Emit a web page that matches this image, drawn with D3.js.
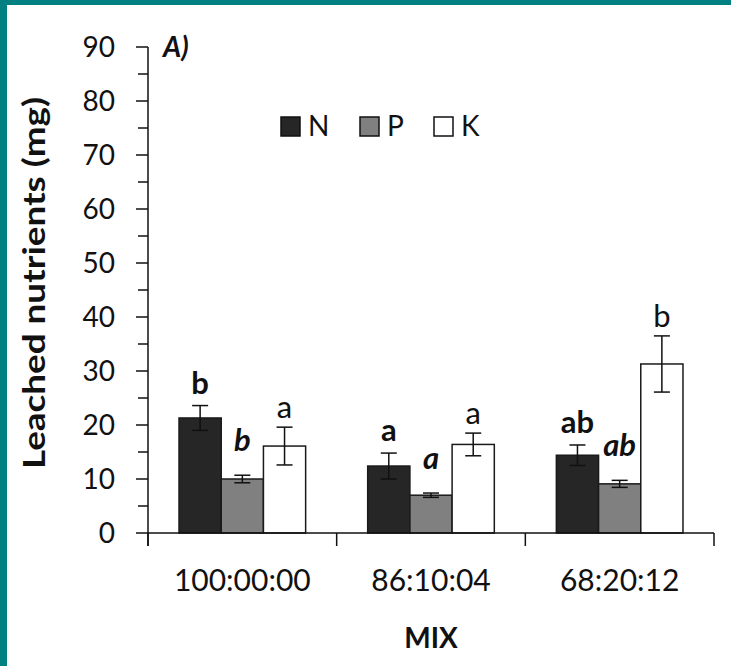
<!DOCTYPE html>
<html>
<head>
<meta charset="utf-8">
<script src="https://cdn.jsdelivr.net/npm/d3@7"></script>
<style>
  body { margin: 0; background: #fff; }
  svg text { font-family: Lato, "Open Sans", sans-serif; fill: #111; }
</style>
</head>
<body>
<div id="chart"></div>
<script>
// data
var mixes = ["100:00:00", "86:10:04", "68:20:12"];
var nutrients = ["N", "P", "K"];
var meanN = [21.3, 12.4, 14.4];
var meanP = [10.0, 7.0, 9.1];
var meanK = [16.1, 16.4, 31.3];
var errN = [2.3, 2.4, 1.9];
var errP = [0.7, 0.4, 0.65];
var errK = [3.5, 2.1, 5.2];
var letN = ["b", "a", "ab"];
var letP = ["b", "a", "ab"];
var letK = ["a", "a", "b"];
var yTicks = [0, 10, 20, 30, 40, 50, 60, 70, 80, 90];

var W = 731, H = 666;
var fills = {N: "#262626", P: "#808080", K: "#ffffff"};
var letterStyle = {
  N: {weight: "bold", style: "normal", gap: 12},
  P: {weight: "bold", style: "italic", gap: 24},
  K: {weight: "normal", style: "normal", gap: 9}
};

var rows = [];
mixes.forEach(function(m, i) {
  rows.push({mix: m, key: "N", v: meanN[i], e: errN[i], l: letN[i]});
  rows.push({mix: m, key: "P", v: meanP[i], e: errP[i], l: letP[i]});
  rows.push({mix: m, key: "K", v: meanK[i], e: errK[i], l: letK[i]});
});

var svg = d3.select("#chart").append("svg")
    .attr("width", W)
    .attr("height", H);

// teal frame bits
svg.append("rect").attr("x", 0).attr("y", 0).attr("width", W).attr("height", 5).attr("fill", "#008080");
svg.append("rect").attr("x", 0).attr("y", 0).attr("width", 7).attr("height", H).attr("fill", "#008080");

var x0 = d3.scaleBand().domain(mixes).range([148, 714]).padding(0);
var x1 = d3.scaleBand().domain(nutrients).range([0, x0.bandwidth()])
    .paddingInner(0).paddingOuter(0.735);
var y = d3.scaleLinear().domain([0, 90]).range([533, 47]);

// y axis with minor ticks
var yAxis = svg.append("g").attr("transform", "translate(148,0)");
yAxis.append("line").attr("y1", y(90)).attr("y2", 546).attr("stroke", "#111").attr("stroke-width", 1.5);
yAxis.selectAll(".minor")
    .data(d3.range(5, 90, 10))
    .enter().append("line")
    .attr("x1", -10).attr("x2", 0)
    .attr("y1", function(d) { return y(d); })
    .attr("y2", function(d) { return y(d); })
    .attr("stroke", "#111").attr("stroke-width", 1.5);
yAxis.selectAll(".major")
    .data(yTicks)
    .enter().append("line")
    .attr("x1", -12).attr("x2", 0)
    .attr("y1", function(d) { return y(d); })
    .attr("y2", function(d) { return y(d); })
    .attr("stroke", "#111").attr("stroke-width", 1.5);
yAxis.selectAll(".lbl")
    .data(yTicks)
    .enter().append("text")
    .attr("x", -33)
    .attr("y", function(d) { return y(d); })
    .attr("dy", "0.36em")
    .attr("text-anchor", "end")
    .attr("font-size", 28)
    .text(function(d) { return d; });

// bars
var bar = svg.selectAll(".bar")
    .data(rows)
    .enter().append("g")
    .attr("transform", function(d) { return "translate(" + (x0(d.mix) + x1(d.key)) + ",0)"; });

bar.append("rect")
    .attr("x", 0)
    .attr("y", function(d) { return y(d.v); })
    .attr("width", x1.bandwidth())
    .attr("height", function(d) { return y(0) - y(d.v); })
    .attr("fill", function(d) { return fills[d.key]; })
    .attr("stroke", "#1a1a1a")
    .attr("stroke-width", 1.5);

var bw = x1.bandwidth() / 2;
bar.append("line")
    .attr("x1", bw).attr("x2", bw)
    .attr("y1", function(d) { return y(d.v + d.e); })
    .attr("y2", function(d) { return y(d.v - d.e); })
    .attr("stroke", "#111").attr("stroke-width", 1.5);
bar.selectAll(".cap")
    .data(function(d) { return [d.v + d.e, d.v - d.e]; })
    .enter().append("line")
    .attr("x1", bw - 8).attr("x2", bw + 8)
    .attr("y1", function(v) { return y(v); })
    .attr("y2", function(v) { return y(v); })
    .attr("stroke", "#111").attr("stroke-width", 1.5);

bar.append("text")
    .attr("x", bw)
    .attr("y", function(d) { return y(d.v + d.e) - letterStyle[d.key].gap; })
    .attr("text-anchor", "middle")
    .attr("font-size", 31)
    .attr("font-weight", function(d) { return letterStyle[d.key].weight; })
    .attr("font-style", function(d) { return letterStyle[d.key].style; })
    .text(function(d) { return d.l; });

// x axis
var xAxis = svg.append("g").attr("transform", "translate(0," + y(0) + ")");
xAxis.append("line").attr("x1", 148).attr("x2", 714).attr("stroke", "#111").attr("stroke-width", 1.5);
xAxis.selectAll(".sep")
    .data(mixes.map(function(m) { return x0(m); }).concat([714]))
    .enter().append("line")
    .attr("x1", function(d) { return d; }).attr("x2", function(d) { return d; })
    .attr("y1", 0).attr("y2", 13)
    .attr("stroke", "#111").attr("stroke-width", 1.5);
xAxis.selectAll(".lbl")
    .data(mixes)
    .enter().append("text")
    .attr("x", function(m) { return x0(m) + x0.bandwidth() / 2; })
    .attr("y", 58)
    .attr("text-anchor", "middle")
    .attr("font-size", 30)
    .text(function(m) { return m; });

// axis titles
svg.append("text")
    .attr("x", 431).attr("y", 648)
    .attr("text-anchor", "middle")
    .attr("font-size", 28)
    .attr("font-weight", "bold")
    .text("MIX");
svg.append("text")
    .attr("transform", "translate(45,283) rotate(-90)")
    .attr("text-anchor", "middle")
    .attr("font-size", 30)
    .attr("font-weight", "bold")
    .attr("textLength", 372)
    .attr("lengthAdjust", "spacingAndGlyphs")
    .text("Leached nutrients (mg)");

svg.append("text")
    .attr("x", 163).attr("y", 57)
    .attr("font-size", 28)
    .attr("font-weight", "bold")
    .attr("font-style", "italic")
    .text("A)");

// legend
var legend = svg.selectAll(".leg")
    .data(nutrients)
    .enter().append("g")
    .attr("transform", function(d, i) { return "translate(" + [281, 360, 434][i] + ",117)"; });
legend.append("rect")
    .attr("width", 19).attr("height", 19)
    .attr("fill", function(d) { return fills[d]; })
    .attr("stroke", "#111").attr("stroke-width", 1.5);
legend.append("text")
    .attr("x", 27).attr("y", 19)
    .attr("font-size", 28)
    .text(function(d) { return d; });
</script>
</body>
</html>
